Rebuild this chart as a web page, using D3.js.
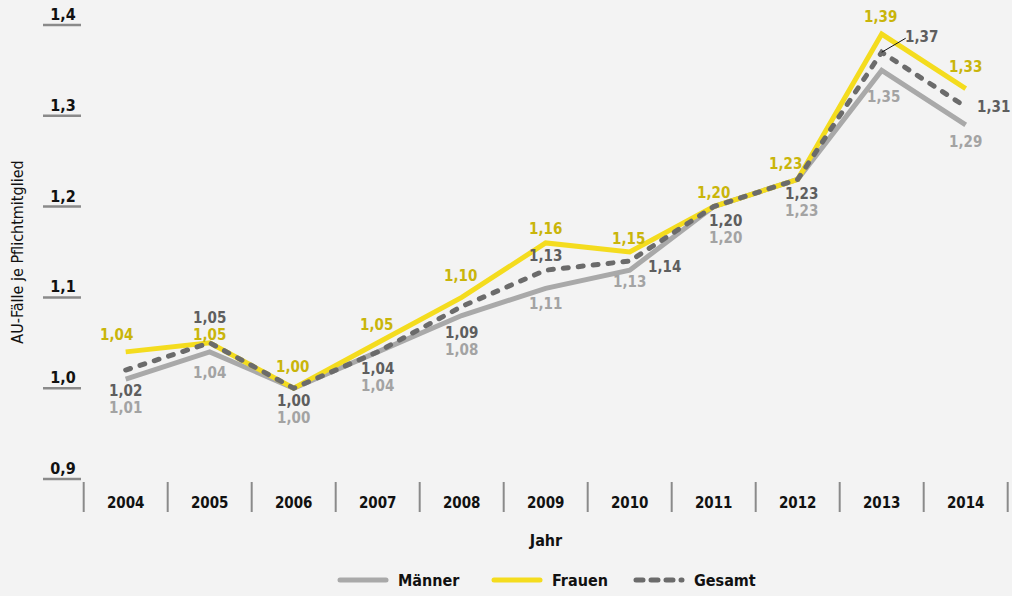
<!DOCTYPE html>
<html>
<head>
<meta charset="utf-8">
<script src="https://cdn.jsdelivr.net/npm/d3@7"></script>
<style>
  html, body { margin: 0; padding: 0; background: #f3f3f3; }
  svg { display: block; }
  text { font-family: "Liberation Sans Narrow", "DejaVu Sans Condensed", "Roboto Condensed", sans-serif; }
</style>
</head>
<body>
<svg id="chart" width="1012" height="596"></svg>
<script>
// ---- data ----
const years = ["2004","2005","2006","2007","2008","2009","2010","2011","2012","2013","2014"];
const maenner = [1.01, 1.04, 1.00, 1.04, 1.08, 1.11, 1.13, 1.20, 1.23, 1.35, 1.29];
const frauen  = [1.04, 1.05, 1.00, 1.05, 1.10, 1.16, 1.15, 1.20, 1.23, 1.39, 1.33];
const gesamt  = [1.02, 1.05, 1.00, 1.04, 1.09, 1.13, 1.14, 1.20, 1.23, 1.37, 1.31];
const yTicks  = [0.9, 1.0, 1.1, 1.2, 1.3, 1.4];
const seriesNames = ["Männer", "Frauen", "Gesamt"];

// label placement offsets (layout only): [dx, dy] from the point, per year
const offM = [[0,29],[0,21],[0,30],[0,34],[0,34],[0,16],[0,12],[12,31],[4,32],[2,27],[0,17]];
const offF = [[-9,-17],[0,-8],[-1,-21],[-1,-18],[-1,-21],[0,-14],[-1,-13],[0,-14],[-12,-15],[-1,-17],[0,-22]];
const offG = [[0,21],[0,-25],[0,13],[0,17],[0,27],[0,-14],[35,6],[12,14],[4,15],[40,-15],[28,0]];

const svg = d3.select("#chart");
const fmt = v => d3.format(".2f")(v).replace(".", ",");

const x = d3.scaleBand().domain(years).range([83.7, 1007.7]);
const y = d3.scaleLinear().domain([0.9, 1.4]).range([479, 25]);
const cx = d => x(d) + x.bandwidth() / 2;

// y axis ticks (short lines with labels above)
const yg = svg.append("g");
yTicks.forEach(t => {
  yg.append("line").attr("x1", 43).attr("x2", 81).attr("y1", y(t)).attr("y2", y(t))
    .attr("stroke", "#8a8a8a").attr("stroke-width", 2.5);
  yg.append("text").attr("x", 63).attr("y", y(t) - 5).attr("text-anchor", "middle")
    .attr("font-size", 16).attr("font-weight", "bold").attr("fill", "#111")
    .text(String(t.toFixed(1)).replace(".", ","));
});

// x axis: separators + labels
const xg = svg.append("g");
const bounds = years.map(d => x(d)).concat([x(years[years.length-1]) + x.bandwidth()]);
bounds.forEach(b => {
  xg.append("line").attr("x1", b).attr("x2", b).attr("y1", 482).attr("y2", 512)
    .attr("stroke", "#8a8a8a").attr("stroke-width", 2);
});
years.forEach(d => {
  xg.append("text").attr("x", cx(d)).attr("y", 508).attr("text-anchor", "middle")
    .attr("font-size", 15).attr("font-weight", "bold").attr("fill", "#111").text(d);
});

// axis titles
svg.append("text").attr("x", 546).attr("y", 546).attr("text-anchor", "middle")
  .attr("font-size", 16).attr("font-weight", "bold").attr("fill", "#111").text("Jahr");
svg.append("text").attr("transform", "translate(23,252) rotate(-90)").attr("text-anchor", "middle")
  .attr("font-size", 16).attr("fill", "#111").text("AU-Fälle je Pflichtmitglied");

// lines
const line = d3.line().x((v, i) => cx(years[i])).y(v => y(v));
svg.append("path").datum(maenner).attr("d", line).attr("fill", "none")
  .attr("stroke", "#a9a9a9").attr("stroke-width", 5).attr("stroke-linejoin", "miter");
svg.append("path").datum(frauen).attr("d", line).attr("fill", "none")
  .attr("stroke", "#f4dc1e").attr("stroke-width", 5).attr("stroke-linejoin", "miter");
svg.append("path").datum(gesamt).attr("d", line).attr("fill", "none")
  .attr("stroke", "#6b6b6b").attr("stroke-width", 5).attr("stroke-linecap", "round")
  .attr("stroke-dasharray", "5,10");

// data labels
function labels(vals, offs, color) {
  vals.forEach((v, i) => {
    svg.append("text").attr("x", cx(years[i]) + offs[i][0]).attr("y", y(v) + offs[i][1] + 5)
      .attr("text-anchor", "middle").attr("font-size", 15).attr("font-weight", "bold")
      .attr("fill", color).text(fmt(v));
  });
}
labels(maenner, offM, "#a3a3a3");
labels(frauen, offF, "#c9b50a");
labels(gesamt, offG, "#5e5e5e");

// leader line for 2013 Gesamt
const i13 = years.indexOf("2013");
svg.append("line").attr("x1", cx("2013")).attr("y1", y(gesamt[i13]))
  .attr("x2", cx("2013") + 24).attr("y2", y(gesamt[i13]) - 14)
  .attr("stroke", "#111").attr("stroke-width", 1);

// legend
const legend = [
  {name: seriesNames[0], color: "#a9a9a9", dash: null, x: 338},
  {name: seriesNames[1], color: "#f4dc1e", dash: null, x: 492},
  {name: seriesNames[2], color: "#6b6b6b", dash: "5,10", x: 634}
];
legend.forEach(l => {
  const ln = svg.append("line").attr("x1", l.x + 2).attr("x2", l.x + 48).attr("y1", 580).attr("y2", 580)
    .attr("stroke", l.color).attr("stroke-width", 5).attr("stroke-linecap", "round");
  if (l.dash) ln.attr("stroke-dasharray", "7,8");
  svg.append("text").attr("x", l.x + 60).attr("y", 586).attr("font-size", 16)
    .attr("font-weight", "bold").attr("fill", "#111").text(l.name);
});
</script>
</body>
</html>
